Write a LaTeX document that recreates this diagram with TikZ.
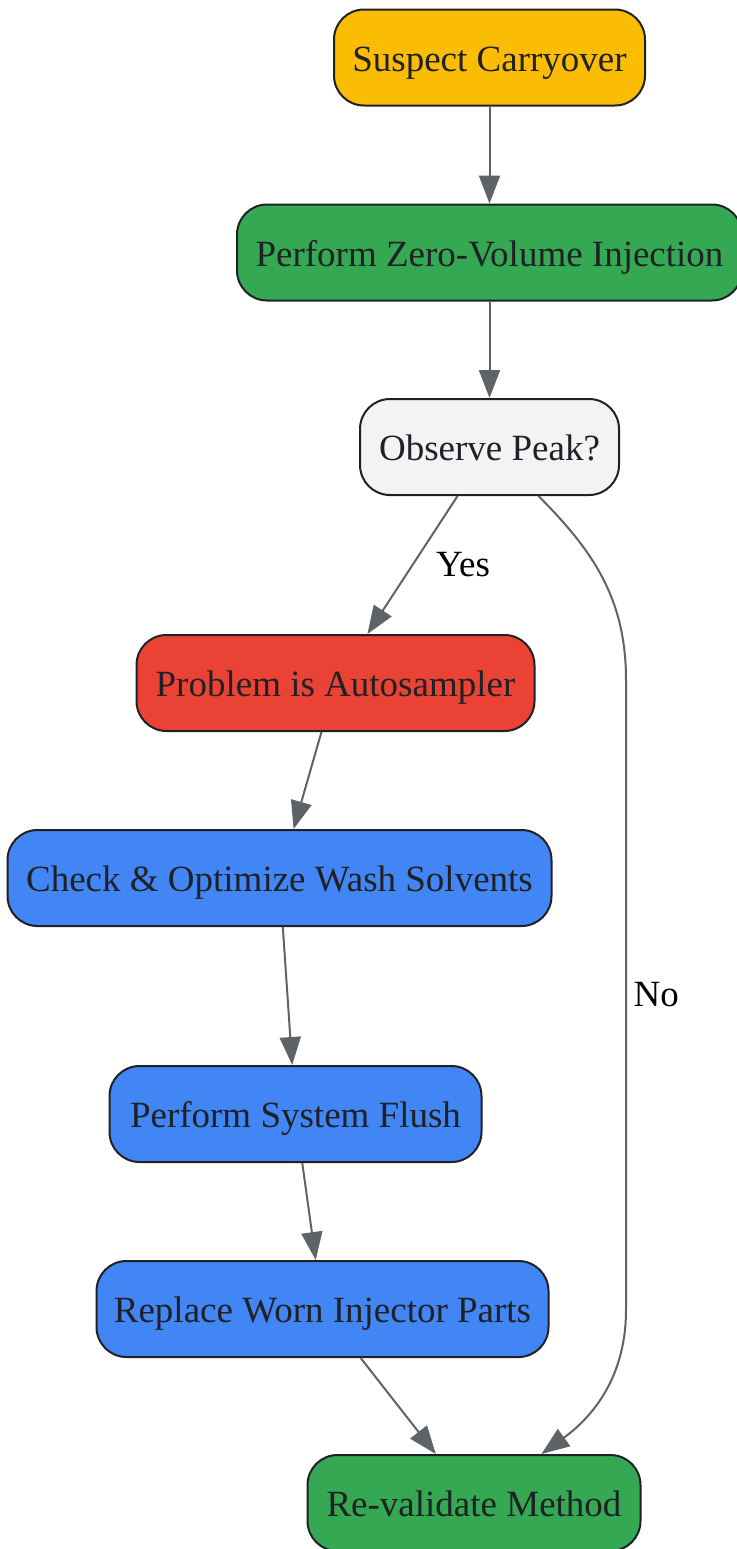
\documentclass[tikz,border=0pt]{standalone}
\usepackage{fontspec}
\setmainfont{Liberation Serif}
\usetikzlibrary{positioning,arrows.meta}
\definecolor{startyellow}{HTML}{FBBC04}
\definecolor{okgreen}{HTML}{34A853}
\definecolor{askgrey}{HTML}{F1F3F4}
\definecolor{badred}{HTML}{EA4335}
\definecolor{fixblue}{HTML}{4285F4}
\definecolor{boxline}{HTML}{202124}
\definecolor{flowgrey}{HTML}{5F6368}

\begin{document}
\begin{tikzpicture}[node distance=97.5pt,on grid,auto,
    font=\fontsize{18.5}{22}\selectfont,
    box/.style={draw=boxline,line width=1pt,rounded corners=15pt,
      minimum height=48pt,text=boxline,text height=15pt,text depth=1.5pt},
    flowline/.style={draw=flowgrey,line width=1pt,
      -{Triangle[length=14pt,width=10.5pt]}},
    every edge/.append style={flowline}]
   \useasboundingbox (0,0) rectangle (368.5pt,-774.5pt);
   \node[box,fill=startyellow,minimum width=155.5pt] (q0) at (244.75pt,-28.75pt) {Suspect Carryover};
   \node[box,fill=okgreen,minimum width=252.5pt] (q1) [below=of q0] {Perform Zero-Volume Injection};
   \node[box,fill=askgrey,minimum width=129.5pt] (q2) [below=97.25pt of q1] {Observe Peak?};
   \node[box,fill=badred,minimum width=199pt] (q3) [below left=118pt and 77pt of q2] {Problem is Autosampler};
   \node[box,fill=fixblue,minimum width=272pt] (q4) [below left=97.5pt and 28pt of q3] {Check \& Optimize Wash Solvents};
   \node[box,fill=fixblue,minimum width=186pt] (q5) [below right=118pt and 8pt of q4] {Perform System Flush};
   \node[box,fill=fixblue,minimum width=226pt] (q6) [below right=97.5pt and 13.5pt of q5] {Replace Worn Injector Parts};
   \node[box,fill=okgreen,minimum width=166.5pt] (q7) [below right=97pt and 75.75pt of q6] {Re-validate Method};
   \coordinate (c1) at (313pt,-340pt);
   \coordinate (c2) at (313pt,-655pt);
    \path
    (q0) edge (q1)
    (q1) edge (q2)
    (q2) edge node[right=8pt] {Yes} (q3)
    (q3) edge (q4)
    (q4) edge (q5)
    (q5) edge (q6)
    (q6) edge (q7);
    \draw[flowline] (q2) to[out=-45,in=90] (c1) -- node {No} (c2)
      to[out=-90,in=36] (q7);
\end{tikzpicture}
\end{document}
